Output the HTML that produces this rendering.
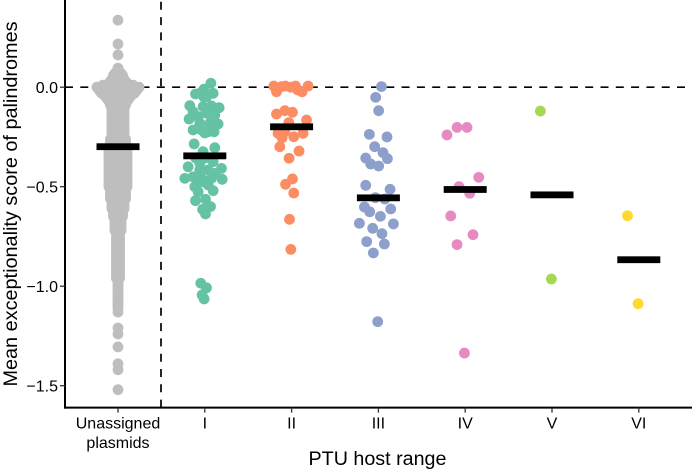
<!DOCTYPE html>
<html lang="en">
<head>
<meta charset="utf-8">
<title>Mean exceptionality score of palindromes by PTU host range</title>
<style>
html,body{margin:0;padding:0;background:#fff;width:692px;height:474px;overflow:hidden}
svg{display:block}
text{font-family:"Liberation Sans",Arial,sans-serif;fill:#000}
</style>
</head>
<body>
<svg id="chart" width="692" height="474" viewBox="0 0 692 474" xmlns="http://www.w3.org/2000/svg">
<text transform="translate(17,204) rotate(-90)" text-anchor="middle" font-size="19.85">Mean exceptionality score of palindromes</text>
<text x="377.5" y="465" text-anchor="middle" font-size="19.7">PTU host range</text>
</svg>
<script>
const categories = [["Unassigned", "plasmids"], ["I"], ["II"], ["III"], ["IV"], ["V"], ["VI"]];
const yTickValues = [0, -0.5, -1, -1.5];
const yTickLabels = ["0.0", "\u22120.5", "\u22121.0", "\u22121.5"];
const colors = ["#BEBEBE", "#66C2A5", "#FC8D62", "#8DA0CB", "#E78AC3", "#A6D854", "#FFD92F"];
const means = [-0.299, -0.345, -0.199, -0.556, -0.514, -0.541, -0.867];

/* Unassigned plasmids: value bins and how many plasmids fall in each */
const unassignedValues = [0.337, 0.217, 0.162, 0.096, 0.07, 0.06, 0.05, 0.04, 0.03, 0.02, 0.01, 0, -0.01, -0.02, -0.03, -0.04, -0.05, -0.06, -0.07, -0.08, -0.09, -0.1, -0.11, -0.12, -0.13, -0.14, -0.15, -0.16, -0.17, -0.18, -0.19, -0.2, -0.21, -0.22, -0.23, -0.24, -0.25, -0.26, -0.27, -0.28, -0.29, -0.3, -0.31, -0.32, -0.33, -0.34, -0.35, -0.36, -0.37, -0.38, -0.39, -0.4, -0.41, -0.42, -0.43, -0.44, -0.45, -0.46, -0.47, -0.48, -0.49, -0.5, -0.51, -0.52, -0.53, -0.54, -0.55, -0.56, -0.57, -0.58, -0.59, -0.6, -0.61, -0.62, -0.63, -0.64, -0.65, -0.66, -0.67, -0.68, -0.69, -0.7, -0.71, -0.72, -0.73, -0.74, -0.75, -0.76, -0.77, -0.78, -0.79, -0.8, -0.81, -0.82, -0.83, -0.84, -0.85, -0.86, -0.87, -0.88, -0.89, -0.9, -0.91, -0.92, -0.93, -0.94, -0.95, -0.96, -0.97, -0.98, -0.99, -1, -1.01, -1.02, -1.03, -1.04, -1.05, -1.06, -1.07, -1.08, -1.09, -1.1, -1.11, -1.13, -1.21, -1.24, -1.305, -1.39, -1.42, -1.52];
const unassignedCounts = [1, 1, 1, 1, 3, 4, 4, 5, 6, 7, 11, 15, 14, 13, 12, 10, 9, 8, 7, 6, 6, 5, 5, 5, 5, 5, 5, 5, 5, 5, 5, 5, 5, 5, 5, 5, 5, 6, 6, 6, 6, 6, 7, 7, 7, 7, 7, 7, 7, 7, 7, 7, 7, 7, 7, 7, 7, 7, 7, 7, 7, 7, 6, 6, 6, 6, 6, 6, 5, 5, 5, 5, 5, 4, 4, 4, 4, 3, 3, 3, 3, 3, 3, 3, 2, 2, 2, 2, 2, 2, 2, 2, 2, 2, 2, 2, 2, 2, 2, 2, 2, 2, 2, 2, 2, 2, 2, 2, 1, 1, 1, 1, 1, 1, 1, 1, 1, 1, 1, 1, 1, 1, 1, 1, 1, 1, 1, 1, 1, 1];

/* PTU groups: scores, plus horizontal jitter in category units */
const valuesI = [0.02, -0.01, -0.034, -0.028, -0.048, -0.031, -0.048, -0.093, -0.098, -0.094, -0.103, -0.123, -0.16, -0.148, -0.131, -0.14, -0.181, -0.181, -0.185, -0.215, -0.215, -0.224, -0.224, -0.23, -0.285, -0.304, -0.324, -0.356, -0.356, -0.4, -0.382, -0.374, -0.408, -0.416, -0.416, -0.433, -0.458, -0.45, -0.458, -0.458, -0.463, -0.5, -0.491, -0.475, -0.52, -0.525, -0.57, -0.563, -0.6, -0.614, -0.637, -0.985, -1.008, -1.044, -1.064];
const jitterI = [0.07, -0.01, -0.107, -0.046, 0.02, 0.096, -0.012, -0.173, -0.02, 0.077, 0.165, -0.135, -0.181, -0.077, 0.02, 0.115, -0.058, 0.058, 0.153, -0.135, -0.038, 0.035, 0.107, 0, -0.123, 0.115, -0.02, 0, -0.104, -0.192, -0.058, 0.096, 0.192, -0.058, 0.038, 0.115, -0.23, -0.135, -0.038, 0.077, 0.2, -0.115, 0.038, -0.038, 0.096, -0.077, -0.107, 0.008, 0.066, -0.026, 0.008, -0.046, 0.02, -0.031, -0.008];
const valuesII = [0.006, -0.023, 0.003, 0.006, 0.006, 0, -0.023, -0.014, 0.006, -0.135, -0.118, -0.126, -0.165, -0.178, -0.232, -0.224, -0.249, -0.232, -0.254, -0.299, -0.321, -0.357, -0.461, -0.488, -0.532, -0.664, -0.815];
const jitterII = [-0.205, -0.174, -0.116, -0.07, 0.045, -0.009, 0.121, 0.071, 0.19, -0.174, -0.078, 0.01, 0.172, -0.032, -0.156, -0.078, 0.025, 0.132, -0.109, -0.136, 0.086, -0.029, 0.01, -0.07, 0.025, -0.024, -0.009];
const valuesIII = [0.003, -0.051, -0.118, -0.237, -0.25, -0.299, -0.329, -0.359, -0.356, -0.386, -0.396, -0.493, -0.513, -0.555, -0.562, -0.602, -0.626, -0.612, -0.649, -0.684, -0.709, -0.687, -0.736, -0.776, -0.788, -0.833, -1.178];
const jitterIII = [0.035, -0.031, 0.003, -0.104, 0.099, -0.043, 0.053, 0.104, -0.146, -0.089, 0.003, -0.146, 0.134, -0.035, 0.073, -0.161, -0.1, 0.142, 0.023, -0.219, -0.066, 0.173, 0.041, -0.135, 0.069, -0.058, -0.008];
const valuesIV = [-0.24, -0.202, -0.202, -0.453, -0.5, -0.533, -0.647, -0.741, -0.791, -1.336];
const jitterIV = [-0.21, -0.094, 0.021, 0.156, -0.071, 0.052, -0.167, 0.09, -0.094, -0.009];
const valuesV = [-0.12, -0.964];
const jitterV = [-0.134, -0.007];
const valuesVI = [-0.646, -1.088];
const jitterVI = [-0.13, -0.008];

const svg = document.getElementById('chart');
const NS = 'http://www.w3.org/2000/svg';
const xAxisY = 407.6, yAxisX = 65, dividerX = 161, plotRight = 692, dotR = 5.4;
const yScale = v => 87.2 - 199 * v;
const xScale = c => 118 + 86.8 * c;

function make(tag, attrs, parent) {
  const el = document.createElementNS(NS, tag);
  for (const k in attrs) el.setAttribute(k, attrs[k]);
  (parent || svg).appendChild(el);
  return el;
}

/* reference lines */
const zeroLine = make('line', {x1: yAxisX, x2: plotRight, y1: yScale(0), y2: yScale(0), stroke: '#000', 'stroke-width': 1.7, 'stroke-dasharray': '8 7.3'});


const dividerLine = make('line', {x1: dividerX, x2: dividerX, y1: xAxisY, y2: 0, stroke: '#000', 'stroke-width': 1.7, 'stroke-dasharray': '8 7.3'});



/* unassigned swarm */
const unassignedGroup = make('g', {fill: colors[0]});


unassignedValues.forEach((v, b) => {
  const n = unassignedCounts[b];
  for (let i = 0; i < n; i++) {
    const off = (i - (n - 1) / 2) * 0.0346;
    const dot = make('circle', {cx: xScale(0 + off), cy: yScale(v), r: dotR}, unassignedGroup);
    
    
  }
});

/* PTU groups */
const groupValues = [valuesI, valuesII, valuesIII, valuesIV, valuesV, valuesVI];
const groupJitter = [jitterI, jitterII, jitterIII, jitterIV, jitterV, jitterVI];
groupValues.forEach((vals, g) => {
  const grp = make('g', {fill: colors[g + 1]});
  
  
  vals.forEach((v, i) => {
    const dot = make('circle', {cx: xScale(g + 1 + groupJitter[g][i]), cy: yScale(v), r: dotR}, grp);
    
    
  });
});

/* mean bars */
means.forEach((m, c) => {
  const bar = make('rect', {x: xScale(c) - 21.5, y: yScale(m) - 3.4, width: 43, height: 6.8, fill: '#000'});
  
  
});

/* axes */
const yAxisLine = make('line', {x1: yAxisX, x2: yAxisX, y1: 0, y2: xAxisY + 1, stroke: '#000', 'stroke-width': 2});


const xAxisLine = make('line', {x1: yAxisX - 1, x2: plotRight, y1: xAxisY, y2: xAxisY, stroke: '#000', 'stroke-width': 2});



yTickValues.forEach((v, i) => {
  const tick = make('line', {x1: yAxisX - 5, x2: yAxisX, y1: yScale(v), y2: yScale(v), stroke: '#333', 'stroke-width': 1.3});
  
  
  const label = make('text', {x: yAxisX - 7, y: yScale(v) + 5.7, 'text-anchor': 'end', 'font-size': 16, fill: '#111'});
  label.textContent = yTickLabels[i];
  
  
});

categories.forEach((lines, c) => {
  const tick = make('line', {x1: xScale(c), x2: xScale(c), y1: xAxisY, y2: xAxisY + 5, stroke: '#333', 'stroke-width': 1.3});
  
  
  lines.forEach((line, j) => {
    const label = make('text', {x: xScale(c), y: 428.3 + j * 19.5, 'text-anchor': 'middle', 'font-size': 16, fill: '#111'});
    label.textContent = line;
    
    
  });
});
</script>
</body>
</html>
